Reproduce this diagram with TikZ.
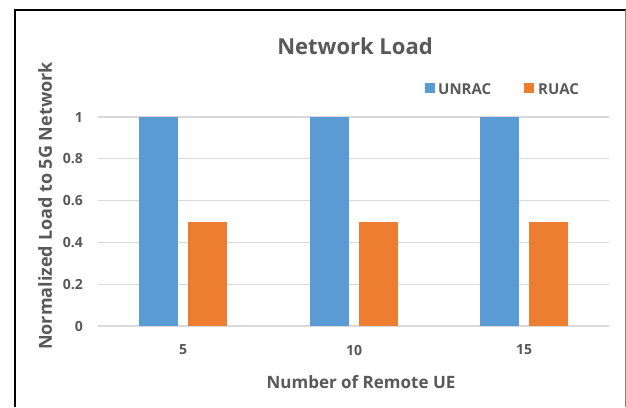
\documentclass[tikz,border=0pt]{standalone}
\usepackage{fontspec}
\setmainfont{Open Sans}
\usepackage{tikz}
\usetikzlibrary{positioning}
\definecolor{unracblue}{RGB}{91,155,213}
\definecolor{ruacorange}{RGB}{237,125,49}
\definecolor{gridgray}{RGB}{217,217,217}
\definecolor{textgray}{RGB}{89,89,89}

\begin{document}
\begin{tikzpicture}[x=1pt,y=-1pt,
  grid line/.style={draw=gridgray,line width=1.2pt},
  tick label/.style={text=textgray,inner sep=0pt,font=\bfseries\fontsize{14}{16}\selectfont},
  axis title/.style={text=textgray,inner sep=0pt,font=\bfseries\fontsize{17}{20}\selectfont},
  legend label/.style={text=textgray,inner sep=0pt,anchor=base west,font=\bfseries\fontsize{15}{18}\selectfont},
  unrac bar/.style={fill=unracblue},
  ruac bar/.style={fill=ruacorange}]

  \useasboundingbox (0,0) rectangle (626,407);
  \fill[white] (0,0) rectangle (626,407);
  % frame
  \draw[line width=1.5pt] (15,407) -- (15,10) -- (626,10);
  \draw[gray,line width=1pt] (625,10) -- (625,407);

  \node[text=textgray,font=\bfseries\fontsize{22}{26}\selectfont] (title) at (355,46) {Network Load};

  % legend
  \fill[unracblue] (425,83) rectangle (435,93);
  \node[legend label] (unrac) at (438,94) {UNRAC};
  \fill[ruacorange] (524,83) rectangle (534,93);
  \node[legend label] (ruac) at (538,94) {RUAC};

  % grid and y ticks
  \foreach \i/\lab in {0/0,1/0.2,2/0.4,3/0.6,4/0.8,5/1}{
    \draw[grid line] (98,326-41.8*\i) -- (609,326-41.8*\i);
    \node[tick label,anchor=east] (y\i) at (83,326-41.8*\i) {\lab};
  }

  % bars
  \foreach \c/\lab in {183/5,354/10,524/15}{
    \fill[unrac bar] (\c-44,117) rectangle (\c-5,326);
    \fill[ruac bar] (\c+5,221.5) rectangle (\c+44,326);
    \node[tick label] (x\lab) at (\c,350) {\lab};
  }

  \node[axis title] (xlab) at (361,382) {Number of Remote UE};
  \node[axis title,rotate=90,font=\bfseries\fontsize{18}{21}\selectfont] (ylab) at (45,206) {Normalized Load to 5G Network};
\end{tikzpicture}
\end{document}
